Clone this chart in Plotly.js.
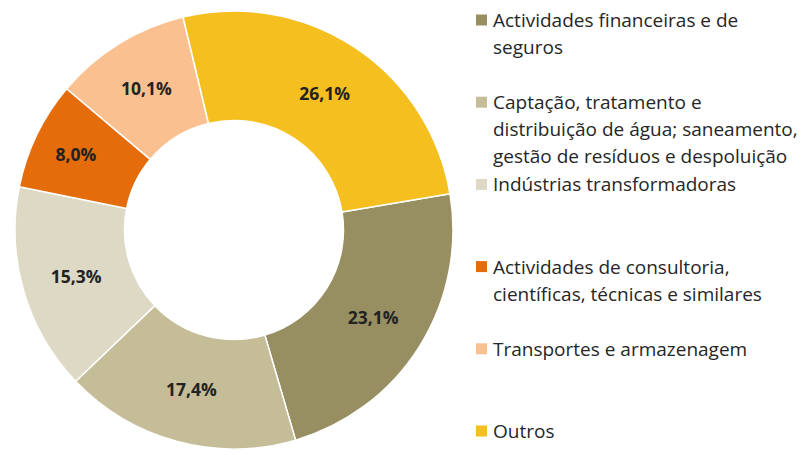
<!DOCTYPE html>
<html>
<head>
<meta charset="utf-8">
<script src="https://cdn.plot.ly/plotly-3.0.1.min.js"></script>
<style>html,body{margin:0;padding:0;background:#fff;}#chart{width:808px;height:455px;}</style>
</head>
<body>
<div id="chart"></div>
<script>
// Data
var categories = [
  "Actividades financeiras e de<br>seguros",
  "Captação, tratamento e<br>distribuição de água; saneamento,<br>gestão de resíduos e despoluição",
  "Indústrias transformadoras",
  "Actividades de consultoria,<br>científicas, técnicas e similares",
  "Transportes e armazenagem",
  "Outros"
];
var values = [23.1, 17.4, 15.3, 8.0, 10.1, 26.1];
var valueLabels = ["23,1%", "17,4%", "15,3%", "8,0%", "10,1%", "26,1%"];
var colors = ["#978F62", "#C4BD97", "#DDD9C4", "#E46C0A", "#FAC090", "#F4BF1F"];

var W = 808, H = 455;

var trace = {
  type: "pie",
  labels: categories,
  values: values,
  text: valueLabels,
  textinfo: "text",
  textposition: "inside",
  insidetextorientation: "horizontal",
  sort: false,
  direction: "clockwise",
  rotation: 80.5,
  hole: 0.5,
  marker: {colors: colors, line: {color: "#ffffff", width: 1.5}},
  textfont: {family: "'Open Sans', Lato, sans-serif", size: 17.5, color: "#222222", weight: "bold"},
  domain: {x: [13 / W, 455 / W], y: [6 / H, 444 / H]},
  showlegend: false,
  hoverinfo: "label+text"
};

// Legend drawn with annotations + shapes (Excel-like spacing)
var annotations = [];
var shapes = [];
var slot = 82.2, lineH = 27, firstY = 20, textX = 491, boxX0 = 476, boxSize = 11;
categories.forEach(function (c, i) {
  var lines = c.split("<br>");
  var y0 = firstY + i * slot;
  shapes.push({
    type: "rect", xref: "paper", yref: "paper",
    x0: boxX0 / W, x1: (boxX0 + boxSize) / W,
    y0: 1 - (y0 - boxSize / 2) / H, y1: 1 - (y0 + boxSize / 2) / H,
    fillcolor: colors[i], line: {width: 0}
  });
  lines.forEach(function (ln, j) {
    annotations.push({
      xref: "paper", yref: "paper",
      x: textX / W, y: 1 - (y0 + j * lineH) / H,
      xanchor: "left", yanchor: "middle",
      text: ln, showarrow: false,
      font: {family: "'Open Sans', Lato, sans-serif", size: 19, color: "#262626"}
    });
  });
});

var layout = {
  width: W, height: H,
  margin: {l: 0, r: 0, t: 0, b: 0},
  paper_bgcolor: "#ffffff",
  plot_bgcolor: "#ffffff",
  showlegend: false,
  annotations: annotations,
  shapes: shapes
};

Plotly.newPlot("chart", [trace], layout, {displayModeBar: false, staticPlot: true});
</script>
</body>
</html>
